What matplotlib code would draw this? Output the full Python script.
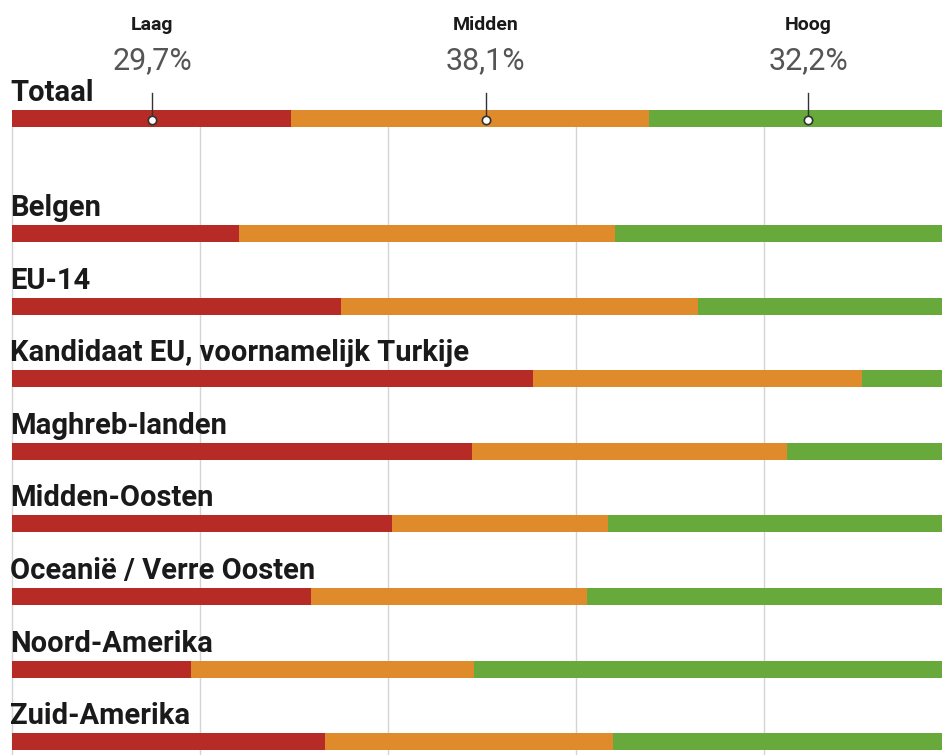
import numpy as np
import matplotlib.pyplot as plt

# data (percent)
groups = ["Totaal", "Belgen", "EU-14", "Kandidaat EU, voornamelijk Turkije",
          "Maghreb-landen", "Midden-Oosten", "Oceanië / Verre Oosten",
          "Noord-Amerika", "Zuid-Amerika"]
laag = np.array([29.7, 24.1, 35.0, 55.4, 48.9, 40.4, 31.8, 19.0, 33.3])
midden = np.array([38.1, 40.0, 38.0, 35.0, 33.5, 23.0, 29.4, 30.2, 30.6])
hoog = np.array([32.2, 35.9, 27.0, 9.6, 17.6, 36.6, 38.8, 50.8, 36.1])
level_names = ["Laag", "Midden", "Hoog"]
level_labels = ["29,7%", "38,1%", "32,2%"]

colors = ["#b62b25", "#df8a2b", "#67a93a"]
fam = ["Roboto", "DejaVu Sans"]

fig = plt.figure(figsize=(9.42, 7.55), dpi=100)
ax = fig.add_axes([0, 0, 1, 1])
W, H = 942, 755
x0 = 12.0       # pixel of 0%
scale = 9.4     # pixels per percent
ax.set_xlim(-x0 / scale, (W - x0) / scale)
ax.set_ylim(H, 0)
ax.axis("off")

# bar centres in pixels
ys = np.array([118.5] + [233.5 + i * 72.6 for i in range(8)])
bh = 17

# grid lines below the total bar
for g in [0, 20, 40, 60, 80]:
    ax.plot([g, g], [127, H], color="#d4d4d4", lw=1, zorder=0)

lefts = np.zeros(len(groups))
for vals, c in zip([laag, midden, hoog], colors):
    ax.barh(ys, vals, left=lefts, height=bh, color=c, edgecolor="none", zorder=2)
    lefts = lefts + vals

for y, name in zip(ys, groups):
    ax.text(-0.2, y - bh / 2 - 9, name, fontsize=21, fontweight="bold",
            family=fam, color="#1a1a1a", ha="left", va="baseline")

# header over the total bar
mark_x = [14.9, 50.4, 84.7]
for mx, nm, lb in zip(mark_x, level_names, level_labels):
    ax.text(mx, 30, nm, fontsize=14, fontweight="bold", family=fam,
            color="#1a1a1a", ha="center", va="baseline")
    ax.text(mx, 69, lb, fontsize=22, family=fam,
            color="#555555", ha="center", va="baseline")
    ax.plot([mx, mx], [93, 120], color="#333333", lw=1, zorder=3)
    ax.plot(mx, 120, "o", ms=6, mfc="white", mec="#333333", mew=1.2, zorder=4)

fig.savefig("out.png", dpi=100)
